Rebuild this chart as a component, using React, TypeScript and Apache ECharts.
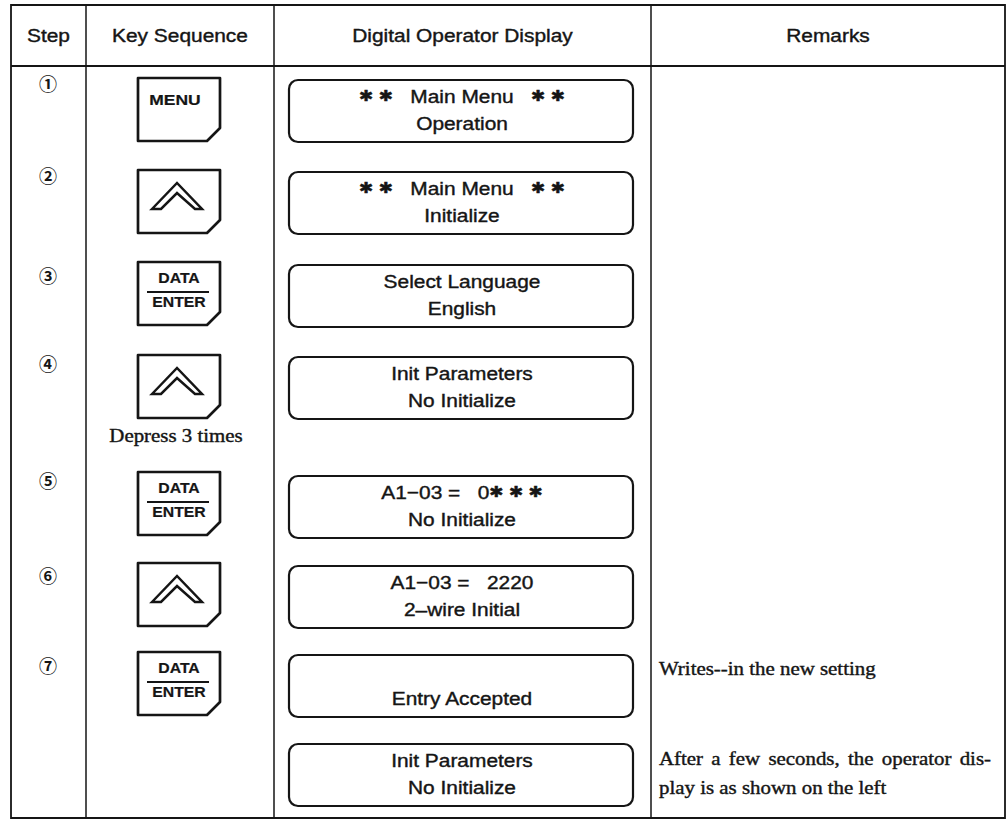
import React, { useEffect, useRef } from 'react';
import * as echarts from 'echarts';

// ---------- table content ----------
const headers = ['Step', 'Key Sequence', 'Digital Operator Display', 'Remarks'];
const steps = ['①', '②', '③', '④', '⑤', '⑥', '⑦'];
const keySequence = ['MENU', 'UP', 'DATA/ENTER', 'UP', 'DATA/ENTER', 'UP', 'DATA/ENTER'];
const keyNotes = ['', '', '', 'Depress 3 times', '', '', ''];
const displayLine1 = [
  '**   Main Menu   **',
  '**   Main Menu   **',
  'Select Language',
  'Init Parameters',
  'A1−03 =   0***',
  'A1−03 =   2220',
  '',
  'Init Parameters',
];
const displayLine2 = [
  'Operation',
  'Initialize',
  'English',
  'No Initialize',
  'No Initialize',
  '2–wire Initial',
  'Entry Accepted',
  'No Initialize',
];
const remarks = [
  [],
  [],
  [],
  [],
  [],
  [],
  ['Writes--in the new setting'],
  ['After a few seconds, the operator dis-', 'play is as shown on the left'],
];

// ---------- layout ----------
const SANS = '"Liberation Sans", Arial, Helvetica, sans-serif';
const SERIF = '"Liberation Serif", "Times New Roman", serif';
const CJK = '"Noto Sans CJK JP", "DejaVu Sans", sans-serif';
const SX = 1.13;
const INK = '#151515';
const colX = [11, 86, 274, 651, 1005];
const tableTop = 5;
const headerBottom = 66;
const tableBottom = 818;
const boxLeft = 289;
const boxRight = 633;
const boxH = 62;
const rowTops = [80, 172, 265, 357, 476, 566, 655, 744];
const stepYs = [83, 175, 275, 363, 480, 575, 665];
const keyTops = [78, 170, 262, 355, 472, 563, 652];
const keyLeft = 138;
const keyW = 82;
const keyH = 63;
const keyCut = 13;

function txt(x: number, y: number, text: string, o: any = {}) {
  const lw = o.lineWidth ?? 0.4;
  return {
    type: 'text',
    x,
    y,
    scaleX: o.scaleX ?? SX,
    silent: true,
    z: 10,
    style: {
      text,
      x: 0,
      y: 0,
      align: o.align || 'center',
      textAlign: o.align || 'center',
      verticalAlign: 'middle',
      textVerticalAlign: 'middle',
      fontSize: o.fontSize || 18.5,
      fontFamily: o.fontFamily || SANS,
      fontWeight: o.fontWeight || 'normal',
      fill: INK,
      stroke: lw > 0 ? INK : 'none',
      lineWidth: lw,
      rich: o.rich,
    },
  };
}

function measure(text: string, fontSize: number, fontFamily: string) {
  try {
    const t = new (echarts.graphic as any).Text({ style: { text, fontSize, fontFamily } });
    return t.getBoundingRect().width * SX;
  } catch (e) {
    return text.length * fontSize * 0.45 * SX;
  }
}

function toRich(s: string) {
  return s.replace(/\*+/g, (m) => '{a|' + m.split('').map(() => '✱').join(' ') + '}');
}

function buildElements() {
  const els: any[] = [];
  // table frame
  els.push({
    type: 'rect',
    shape: { x: colX[0], y: tableTop, width: colX[4] - colX[0], height: tableBottom - tableTop },
    style: { fill: 'none', stroke: INK, lineWidth: 1.8 },
  });
  els.push({
    type: 'line',
    shape: { x1: colX[0], y1: headerBottom, x2: colX[4], y2: headerBottom },
    style: { stroke: INK, lineWidth: 2.2 },
  });
  for (let i = 1; i < 4; i++) {
    els.push({
      type: 'line',
      shape: { x1: colX[i], y1: tableTop, x2: colX[i], y2: tableBottom },
      style: { stroke: INK, lineWidth: 1.5 },
    });
  }
  // headers
  headers.forEach((h, i) => {
    els.push(txt((colX[i] + colX[i + 1]) / 2, 35, h));
  });
  // steps
  steps.forEach((s, i) => {
    els.push(txt(48, stepYs[i], s, { fontFamily: CJK, fontSize: 18, scaleX: 1, fontWeight: 'bold', lineWidth: 0 }));
  });
  // keys
  keySequence.forEach((k, i) => {
    const x = keyLeft;
    const y = keyTops[i];
    els.push({
      type: 'polygon',
      z: 5,
      shape: {
        points: [
          [x, y],
          [x + keyW, y],
          [x + keyW, y + keyH - keyCut],
          [x + keyW - keyCut, y + keyH],
          [x, y + keyH],
        ],
      },
      style: { fill: '#fff', stroke: INK, lineWidth: 2.7, lineJoin: 'round' },
    });
    if (k === 'MENU') {
      els.push(txt(x + 37, y + 22, 'MENU', { fontSize: 15.5, fontWeight: 'bold', lineWidth: 0.2 }));
    } else if (k === 'DATA/ENTER') {
      els.push(txt(x + 41, y + 16, 'DATA', { fontSize: 14, fontWeight: 'bold', lineWidth: 0.2 }));
      els.push({
        type: 'line',
        z: 6,
        shape: { x1: x + 9, y1: y + 30, x2: x + 71, y2: y + 30 },
        style: { stroke: INK, lineWidth: 2.2 },
      });
      els.push(txt(x + 41, y + 40, 'ENTER', { fontSize: 14, fontWeight: 'bold', lineWidth: 0.2 }));
    } else {
      els.push({
        type: 'polygon',
        z: 6,
        shape: {
          points: [
            [x + 14, y + 39],
            [x + 39, y + 13],
            [x + 64, y + 39],
            [x + 57, y + 39],
            [x + 39, y + 23],
            [x + 23, y + 39],
          ],
        },
        style: { fill: '#fff', stroke: INK, lineWidth: 2.5, lineJoin: 'miter' },
      });
    }
    if (keyNotes[i]) {
      els.push(txt(x + 38, y + keyH + 17, keyNotes[i], { fontFamily: SERIF }));
    }
  });
  // display boxes
  const cx = (boxLeft + boxRight) / 2 + 1;
  rowTops.forEach((t, i) => {
    els.push({
      type: 'rect',
      z: 5,
      shape: { x: boxLeft, y: t, width: boxRight - boxLeft, height: boxH, r: 9 },
      style: { fill: 'none', stroke: INK, lineWidth: 2.2 },
    });
    if (displayLine1[i]) {
      els.push(
        txt(cx, t + 16, toRich(displayLine1[i]), {
          rich: { a: { fontFamily: '"DejaVu Sans", sans-serif', fontSize: 15, fill: INK, stroke: INK, lineWidth: 0.5 } },
        })
      );
    }
    if (displayLine2[i]) {
      els.push(txt(cx, t + 43, displayLine2[i]));
    }
    // remarks
    const lines = remarks[i] as string[];
    const rx = 659;
    const ys = lines.length === 1 ? [t + 13] : [t + 14, t + 43];
    lines.forEach((line, li) => {
      const justify = lines.length > 1 && li < lines.length - 1;
      if (!justify) {
        els.push(txt(rx, ys[li], line, { fontFamily: SERIF, align: 'left' }));
      } else {
        const words = line.split(' ');
        const target = 991 - rx;
        const widths = words.map((w) => measure(w, 18.5, SERIF));
        const sum = widths.reduce((a, b) => a + b, 0);
        const gap = (target - sum) / (words.length - 1);
        let px = rx;
        words.forEach((w, wi) => {
          els.push(txt(px, ys[li], w, { fontFamily: SERIF, align: 'left' }));
          px += widths[wi] + gap;
        });
      }
    });
  });
  return els;
}

export default function App() {
  const ref = useRef<HTMLDivElement>(null);
  useEffect(() => {
    if (!ref.current) return;
    const chart = echarts.init(ref.current, undefined, { renderer: 'svg', width: 1008, height: 824 });
    chart.setOption({
      animation: false,
      backgroundColor: '#ffffff',
      graphic: { elements: buildElements() },
    });
    return () => chart.dispose();
  }, []);
  return (
    <div
      ref={ref}
      style={{ position: 'fixed', left: 0, top: 0, width: 1008, height: 824, background: '#fff' }}
    />
  );
}
